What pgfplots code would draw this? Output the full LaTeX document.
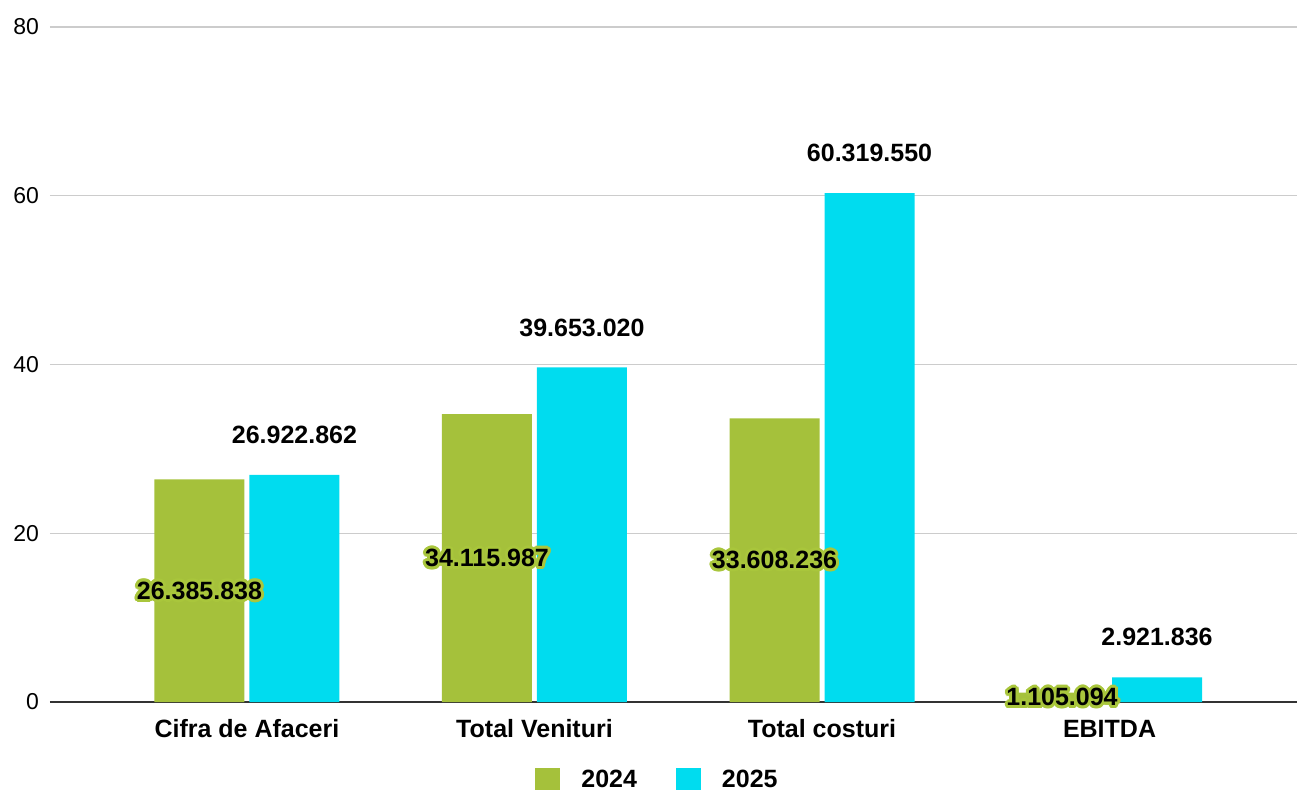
\documentclass[border=0pt]{standalone}
\usepackage{pgfplots}
\pgfplotsset{compat=1.18}
\usepackage{fontspec}
\setmainfont{Liberation Sans}
\definecolor{cgreen}{HTML}{A5C13B}
\definecolor{ccyan}{HTML}{00DCEF}
\definecolor{halo}{HTML}{A9C63C}
\newcommand\halo[1]{%
  \leavevmode
  \foreach \a in {0,20,...,340}{%
    \pgfmathsetlengthmacro\hx{1.5pt*cos(\a)}%
    \pgfmathsetlengthmacro\hy{1.5pt*sin(\a)}%
    \makebox[0pt][l]{\hspace*{\hx}\raisebox{\hy}{\textcolor{halo}{#1}}}%
  }%
  #1}
\begin{document}
\begin{tikzpicture}
\begin{axis}[
  name=ax,
  scale only axis, width=623.5pt, height=337.5pt,
  xmin=-0.685, xmax=3.652, ymin=0, ymax=80,
  ybar=2.5pt, bar width=45pt,
  xtick={0,1,2,3},
  xticklabels={Cifra de Afaceri, Total Venituri, Total costuri, EBITDA},
  ytick={20,40,60,80},
  extra y ticks={0}, extra y tick labels={0},
  extra y tick style={grid style={draw=black!80, line width=0.8pt}},
  ymajorgrids, grid style={draw=black!20, line width=0.6pt},
  axis line style={draw=none},
  major tick length=0pt,
  /pgf/number format/assume math mode=true,
  yticklabel style={font=\fontsize{11.5}{14}\selectfont, anchor=east, xshift=-2pt},
  xticklabel style={font=\bfseries\fontsize{12.5}{15}\selectfont, anchor=base, yshift=-17.5pt},
  mylegend/.style={legend image code/.code={\fill[##1,draw=none] (0pt,-6.25pt) rectangle (12.5pt,6.25pt);}},
  legend columns=2,
  legend style={at={(0.3889,-0.1156)}, anchor=west, draw=none, fill=none,
    font=\bfseries\fontsize{12.5}{15}\selectfont, inner sep=0pt,
    /tikz/every odd column/.append style={column sep=8.5pt},
    /tikz/every even column/.append style={column sep=17.5pt}},
]
\addplot[fill=cgreen, draw=none, mylegend,
  point meta=explicit symbolic,
  visualization depends on=y \as \rawy,
  nodes near coords={\halo{\pgfplotspointmeta}},
  every node near coord/.append style={anchor=center, font=\bfseries\fontsize{12.5}{15}\selectfont,
    shift={(axis direction cs:0,-\rawy/2)}},
] coordinates {
  (0,26.385838) [26.385.838]
  (1,34.115987) [34.115.987]
  (2,33.608236) [33.608.236]
  (3,1.105094) [1.105.094]
};
\addlegendentry{2024}
\addplot[fill=ccyan, draw=none, mylegend,
  point meta=explicit symbolic,
  nodes near coords,
  every node near coord/.append style={anchor=center, font=\bfseries\fontsize{12.5}{15}\selectfont, yshift=20pt},
] coordinates {
  (0,26.922862) [26.922.862]
  (1,39.653020) [39.653.020]
  (2,60.319550) [60.319.550]
  (3,2.921836) [2.921.836]
};
\addlegendentry{2025}
\end{axis}
\pgfresetboundingbox
\path ([shift={(-25pt,-43.5pt)}]ax.south west) rectangle ([shift={(0pt,13.5pt)}]ax.north east);
\end{tikzpicture}
\end{document}
